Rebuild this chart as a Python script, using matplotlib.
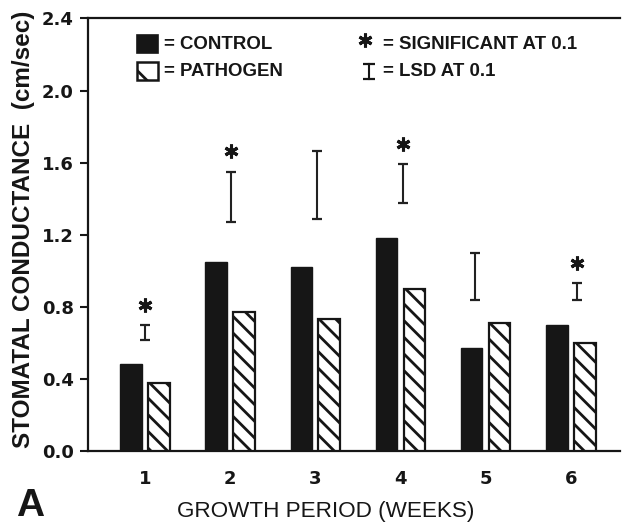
import numpy as np
import matplotlib
matplotlib.use("Agg")
import matplotlib.pyplot as plt
from matplotlib.patches import Rectangle

# values (cm/sec)
weeks = [1, 2, 3, 4, 5, 6]
control = [0.48, 1.05, 1.02, 1.18, 0.57, 0.70]
pathogen = [0.38, 0.77, 0.73, 0.90, 0.71, 0.60]

# LSD bars: x position (weeks), lower and upper ends
lsd_x = [1.00, 2.01, 3.02, 4.03, 4.88, 6.07]
lsd_low = [0.616, 1.269, 1.289, 1.378, 0.838, 0.838]
lsd_high = [0.699, 1.550, 1.666, 1.591, 1.097, 0.931]

# significance asterisks
sig_x = [1.00, 2.01, 4.03, 6.07]
sig_y = [0.81, 1.662, 1.704, 1.042]

ink = "#161616"
plt.rcParams["hatch.linewidth"] = 2.0

fig = plt.figure(figsize=(6.22, 5.23), dpi=100)
ax = fig.add_axes([0.1415, 0.1377, 0.8553, 0.8270])

x = np.array(weeks, dtype=float)
w = 0.252
ax.bar(x - 0.164, control, width=w, color=ink, edgecolor=ink, linewidth=1.0, zorder=3)
ax.bar(x + 0.164, pathogen, width=w, color="white", edgecolor=ink,
       hatch="\\\\", linewidth=1.6, zorder=3)

mid = (np.array(lsd_low) + np.array(lsd_high)) / 2
half = (np.array(lsd_high) - np.array(lsd_low)) / 2
ax.errorbar(lsd_x, mid, yerr=half, fmt="none", ecolor="#222222",
            elinewidth=1.5, capsize=3.6, capthick=1.6, zorder=4)

ax.plot(sig_x, sig_y, linestyle="none", marker=(6, 2, 0), markersize=10,
        markeredgewidth=2.2, color=ink, zorder=4)

ax.set_xlim(0.333, 6.577)
ax.set_ylim(0, 2.4)
ax.set_yticks(np.arange(0, 2.41, 0.4))
ax.set_yticklabels([f"{v:.1f}" for v in np.arange(0, 2.41, 0.4)])
ax.set_xticks(weeks)
ax.set_xticklabels([str(v) for v in weeks])

for lab in ax.get_yticklabels():
    lab.set_fontfamily("DejaVu Sans")
    lab.set_fontweight("bold")
    lab.set_fontsize(13)
for lab in ax.get_xticklabels():
    lab.set_fontfamily("DejaVu Sans")
    lab.set_fontweight("bold")
    lab.set_fontsize(13)

ax.tick_params(axis="y", direction="out", length=6, width=1.5, pad=4.3, colors=ink)
ax.tick_params(axis="x", length=0, pad=13.5, colors=ink)

ax.spines["right"].set_visible(False)
for s in ["left", "bottom", "top"]:
    ax.spines[s].set_linewidth(1.6)
    ax.spines[s].set_color(ink)

ax.set_ylabel("STOMATAL CONDUCTANCE  (cm/sec)", family="Liberation Sans",
              fontweight="bold", fontsize=17.5, color=ink, va="center")
ax.yaxis.set_label_coords(-0.122, 0.513)
ax.set_xlabel("GROWTH PERIOD (WEEKS)", family="Liberation Sans",
              fontsize=16.2, color=ink, va="center")
ax.xaxis.set_label_coords(0.447, -0.139)

# hand-made key in axes fraction
ax.add_patch(Rectangle((0.0915, 0.9195), 0.0406, 0.0423, transform=ax.transAxes,
                       facecolor=ink, edgecolor=ink, lw=1.2, clip_on=False))
ax.add_patch(Rectangle((0.0915, 0.8578), 0.0406, 0.0423, transform=ax.transAxes,
                       facecolor="white", edgecolor=ink, hatch="\\", lw=1.8,
                       clip_on=False))
key_font = dict(family="Liberation Sans", fontweight="bold", fontsize=13.4,
                color=ink, va="center", ha="left", transform=ax.transAxes)
ax.text(0.142, 0.9387, "= CONTROL", **key_font)
ax.text(0.142, 0.877, "= PATHOGEN", **key_font)
ax.plot([0.5207], [0.950], transform=ax.transAxes, marker=(6, 2, 0),
        markersize=10, markeredgewidth=2.2, color=ink, clip_on=False)
ax.plot([0.528, 0.528], [0.860, 0.895], transform=ax.transAxes, marker="_",
        markersize=8, markeredgewidth=1.6, lw=1.5, color=ink, clip_on=False)
ax.text(0.554, 0.9387, "= SIGNIFICANT AT 0.1", **key_font)
ax.text(0.554, 0.877, "= LSD AT 0.1", **key_font)

fig.text(30 / 622, 1 - 506 / 523, "A", family="Liberation Sans",
         fontweight="bold", fontsize=28, color=ink, ha="center", va="center")

fig.savefig("out.png", dpi=100)
